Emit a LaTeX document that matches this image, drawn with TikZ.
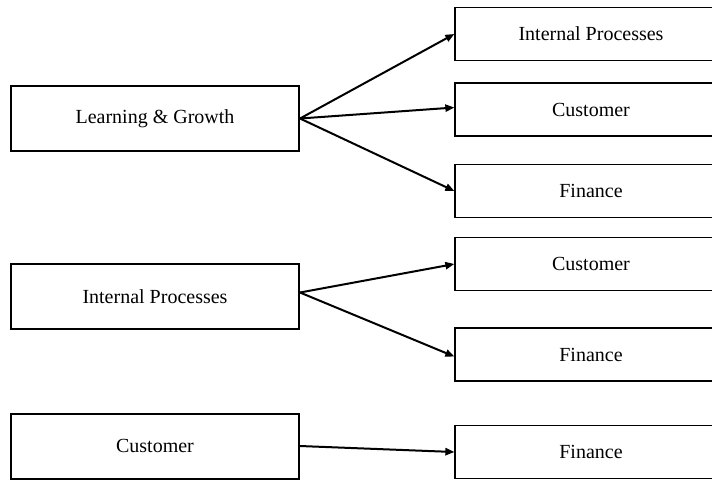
\documentclass[tikz,border=0pt]{standalone}
\usepackage{fontspec}
\setmainfont{Liberation Serif}
\usetikzlibrary{arrows.meta, positioning}

\begin{document}
\begin{tikzpicture}[x=0.5pt, y=-0.5pt,
                    auto,
                    perspective/.style={rectangle, draw, line width=1pt, align=center, minimum height=32.5pt, minimum width=144pt},
                    target/.style={rectangle, draw, line width=0.65pt, align=center, minimum height=26.5pt, minimum width=136pt},
                    link/.style={-{Triangle[length=4.5pt, width=3.6pt]}, line width=1pt}]

    \clip (0,0) rectangle (712,479);

    % Left column
    \node[perspective] (learning) at (155,118.5) {Learning \& Growth};
    \node[perspective] (internal) at (155,296.5) {Internal Processes};
    \node[perspective] (customer) at (155,446) {Customer};

    % Right column
    \node[target] (learning-internal) at (591,34)    {Internal Processes};
    \node[target] (learning-customer) at (591,109.5) {Customer};
    \node[target] (learning-finance)  at (591,191)   {Finance};
    \node[target] (internal-customer) at (591,264)   {Customer};
    \node[target] (internal-finance)  at (591,354.5) {Finance};
    \node[target] (customer-finance)  at (591,452)   {Finance};

    % Links from learning & growth
    \draw[link] (learning.east) -- (learning-internal.west);
    \draw[link] (learning.east) -- ([yshift=1pt]learning-customer.west);
    \draw[link] (learning.east) -- (learning-finance.west);

    % Links from internal processes
    \draw[link] ([yshift=2pt]internal.east) -- (internal-customer.west);
    \draw[link] ([yshift=2pt]internal.east) -- ([yshift=-1pt]internal-finance.west);

    % Link from customer
    \draw[link] (customer.east) -- (customer-finance.west);

\end{tikzpicture}
\end{document}
